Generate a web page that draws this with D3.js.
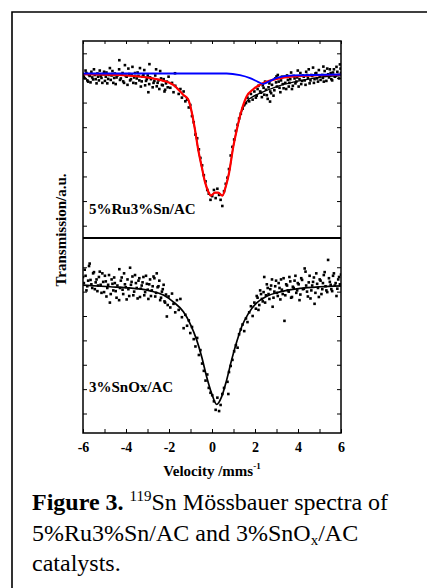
<!DOCTYPE html>
<html>
<head>
<meta charset="utf-8">
<script src="https://cdn.jsdelivr.net/npm/d3@7"></script>
<style>
  body { margin: 0; background: #fff; }
  svg { display: block; }
  text { font-family: "Liberation Serif", "Times New Roman", serif; }
</style>
</head>
<body>
<svg id="fig" width="427" height="588"></svg>
<script>
// ---- data (velocity mm/s, transmission a.u.) ----
const velTicks = [-6, -5, -4, -3, -2, -1, 0, 1, 2, 3, 4, 5, 6];
const velLabels = [-6, -4, -2, 0, 2, 4, 6];
const topTicks = [0.5, 1.5, 2.5, 3.5, 4.5, 5.5, 6.5, 7.5];
const botTicks = [0.8, 1.8, 2.8, 3.8, 4.8, 5.8, 6.8];
const sampleTop = "5%Ru3%Sn/AC";
const sampleBot = "3%SnOx/AC";

// 5%Ru3%Sn/AC measured points
const topPoints = [
  [-6.00,6.62],[-5.92,6.48],[-5.84,6.70],[-5.76,6.35],[-5.69,6.58],[-5.61,6.75],[-5.53,6.44],[-5.45,6.62],
  [-5.37,6.28],[-5.30,6.55],[-5.22,6.80],[-5.14,6.50],[-5.06,6.66],[-4.98,6.38],[-4.91,6.72],[-4.83,6.46],
  [-4.75,6.90],[-4.67,6.60],[-4.59,6.30],[-4.52,6.68],[-4.44,6.52],[-4.31,7.22],[-4.28,6.42],[-4.20,6.64],
  [-4.13,6.36],[-4.05,7.02],[-3.97,6.55],[-3.89,6.88],[-3.81,6.40],[-3.74,6.62],[-3.66,6.30],[-3.58,6.70],
  [-3.50,6.48],[-3.42,6.58],[-3.35,6.90],[-3.27,6.36],[-3.19,6.62],[-3.11,6.20],[-3.03,6.45],[-2.96,5.92],
  [-2.88,6.52],[-2.91,7.06],[-2.72,6.30],[-2.64,6.60],[-2.57,6.16],[-2.49,6.40],[-2.41,6.78],[-2.33,6.22],
  [-2.25,6.45],[-2.18,6.02],[-2.10,6.35],[-2.02,6.55],[-1.94,6.10],[-1.86,6.30],[-1.79,5.92],[-1.71,6.18],
  [-1.72,6.69],[-1.55,5.85],[-1.47,6.05],[-1.40,5.70],[-1.32,5.95],[-1.24,5.55],[-1.16,5.62],[-1.08,5.30],
  [-1.01,5.40],[-0.93,4.95],[-0.85,4.70],[-0.77,4.20],[-0.69,4.05],[-0.61,3.60],[-0.54,3.25],[-0.46,2.95],
  [-0.38,2.55],[-0.30,2.30],[-0.22,1.95],[-0.15,1.80],[-0.07,1.55],[0.01,1.70],[0.09,1.95],[0.17,1.62],
  [0.25,2.00],[0.33,1.75],[0.40,1.55],[0.48,1.30],[0.56,1.90],[0.64,2.20],[0.72,2.45],[0.79,2.80],
  [0.87,3.35],[0.95,3.70],[1.03,4.00],[1.11,4.35],[1.19,4.60],[1.26,4.85],[1.34,5.05],[1.42,5.25],
  [1.50,5.40],[1.58,5.48],[1.65,5.70],[1.73,5.55],[1.81,5.85],[1.89,5.62],[1.97,5.95],[2.04,5.70],
  [2.12,6.05],[2.70,5.54],[2.28,5.90],[2.36,6.20],[2.43,5.82],[2.51,6.02],[2.59,5.65],[2.67,6.28],
  [2.75,5.88],[3.00,6.56],[2.90,6.00],[2.98,6.32],[3.06,6.62],[3.14,6.10],[3.21,6.40],[3.29,6.25],
  [3.37,6.55],[3.45,6.05],[3.53,6.42],[3.60,6.30],[3.68,6.72],[3.76,6.18],[3.84,6.48],[3.92,6.35],
  [3.99,6.80],[4.07,6.45],[4.15,6.25],[4.23,6.60],[4.31,6.40],[4.38,6.75],[4.46,6.50],[4.54,6.28],
  [4.62,6.62],[4.70,6.92],[4.77,6.45],[4.85,6.70],[4.93,6.35],[5.01,6.58],[5.18,6.96],[5.16,6.50],
  [5.24,6.78],[5.32,6.38],[5.40,6.65],[5.48,6.85],[5.55,6.45],[5.63,6.72],[5.71,6.55],[5.79,6.95],
  [5.87,6.62],[5.95,7.05],[6.00,6.70],
  [-5.96,6.55],[-5.88,6.80],[-5.80,6.40],[-5.72,6.62],[-5.65,6.32],[-5.57,6.52],[-5.49,6.85],[-5.41,6.45],
  [-5.33,6.68],[-5.26,6.40],[-5.18,6.58],[-5.10,6.30],[-5.02,6.75],[-4.94,6.55],[-4.87,6.28],[-4.79,6.62],
  [-4.71,6.42],[-4.63,6.78],[-4.55,6.50],[-4.48,6.25],[-4.40,6.60],[-4.32,6.85],[-4.24,6.48],[-4.16,6.70],
  [-4.09,6.30],[-4.01,6.58],[-3.93,6.22],[-3.85,6.66],[-3.77,6.45],[-3.70,6.95],[-3.62,6.52],[-3.54,6.28],
  [-3.46,6.72],[-3.38,6.40],[-3.31,6.15],[-3.23,6.55],[-3.15,6.82],[-3.07,6.38],[-2.99,6.60],[-2.92,6.25],
  [-2.84,6.45],[-2.76,6.12],[-2.68,6.38],[-2.60,6.85],[-2.53,6.30],[-2.45,6.05],[-2.37,6.48],[-2.29,6.20],
  [-2.21,5.95],[-2.14,6.28],[-2.06,6.12],
  [2.08,5.78],[2.16,6.18],[2.24,5.95],[2.32,5.72],[2.40,6.10],[2.47,6.35],[2.55,5.80],[2.63,6.12],
  [2.71,5.95],[2.79,6.22],[2.86,5.78],[2.94,6.48],[3.02,6.15],[3.10,6.35],[3.18,5.92],[3.25,6.55],
  [3.33,6.08],[3.41,6.30],[3.49,6.60],[3.57,6.15],[3.64,6.45],[3.72,6.05],[3.80,6.58],[3.88,6.28],
  [3.96,6.52],[4.03,6.15],[4.11,6.70],[4.19,6.38],[4.27,6.55],[4.35,6.22],[4.42,6.62],[4.50,6.85],
  [4.58,6.40],[4.66,6.58],[4.74,6.30],[4.81,6.68],[4.89,6.48],[4.97,6.82],[5.05,6.42],[5.13,6.62],
  [5.20,6.35],[5.28,6.58],[5.36,6.88],[5.44,6.52],[5.52,6.70],[5.59,6.40],[5.67,6.85],[5.75,6.58],
  [5.83,6.75],[5.91,6.48],[5.98,6.88]
];

// 5%Ru3%Sn/AC fits: total (red), main component (black), minor component (blue)
const topFitTotal = [
  [-6.00,6.65],[-3.97,6.60],[-2.42,6.42],[-1.80,6.22],[-1.33,5.81],[-1.10,5.61],[-0.95,5.14],[-0.79,4.39],
  [-0.64,3.58],[-0.48,2.90],[-0.33,2.29],[-0.17,1.88],[-0.06,1.72],[0.14,1.84],[0.29,1.84],[0.48,1.72],
  [0.64,2.09],[0.79,2.63],[0.99,3.71],[1.15,4.39],[1.38,5.20],[1.61,5.75],[1.92,6.04],[2.39,6.29],
  [3.01,6.46],[3.78,6.56],[6.00,6.63]
];
const topFitMain = [
  [-6.00,6.65],[-3.97,6.60],[-2.42,6.42],[-1.80,6.22],[-1.33,5.81],[-1.10,5.61],[-0.95,5.14],[-0.79,4.39],
  [-0.64,3.58],[-0.48,2.90],[-0.33,2.29],[-0.17,1.88],[-0.06,1.72],[0.14,1.84],[0.29,1.84],[0.48,1.72],
  [0.64,2.09],[0.79,2.63],[0.99,3.71],[1.15,4.39],[1.38,5.14],[1.61,5.54],[1.92,5.75],[2.23,5.88],
  [2.54,5.99],[3.01,6.15],[3.78,6.33],[4.56,6.46],[5.33,6.56],[6.00,6.60]
];
const topFitMinor = [
  [-6.00,6.68],[0.68,6.68],[1.30,6.61],[1.77,6.49],[2.16,6.33],[2.36,6.26],[2.62,6.34],[3.01,6.50],
  [3.78,6.60],[6.00,6.64]
];

// 3%SnOx/AC measured points
const botPoints = [
  [-6.00,6.40],[-5.92,6.70],[-5.84,5.85],[-5.76,6.25],[-5.69,6.95],[-5.61,6.10],[-5.53,6.55],[-5.45,5.90],
  [-5.37,6.30],[-5.30,6.05],[-5.22,6.62],[-5.14,5.75],[-5.06,6.20],[-4.98,6.45],[-4.91,5.60],[-4.83,6.08],
  [-4.75,5.35],[-4.67,6.30],[-4.59,5.85],[-4.52,6.15],[-4.44,5.55],[-4.31,6.72],[-4.28,5.95],[-4.20,6.38],
  [-4.13,5.70],[-4.05,6.10],[-3.97,5.48],[-3.89,5.90],[-3.81,6.78],[-3.74,6.20],[-3.66,5.65],[-3.58,6.48],
  [-3.50,5.95],[-3.42,6.25],[-3.35,5.58],[-3.27,6.05],[-3.19,6.40],[-3.11,5.78],[-3.03,6.12],[-2.96,5.50],
  [-2.88,6.30],[-2.80,5.85],[-2.72,6.42],[-2.64,5.60],[-2.57,6.55],[-2.49,6.02],[-2.41,5.45],[-2.33,5.80],
  [-2.25,6.08],[-2.18,5.35],[-2.10,4.78],[-2.02,5.60],[-1.94,5.15],[-1.86,5.72],[-1.79,5.30],[-1.71,4.95],
  [-1.63,5.45],[-1.55,5.05],[-1.47,5.50],[-1.40,4.75],[-1.32,4.30],[-1.24,4.85],[-1.16,4.40],[-1.08,4.62],
  [-1.01,4.10],[-0.93,4.35],[-0.85,3.85],[-0.77,3.55],[-0.69,3.90],[-0.61,3.20],[-0.54,3.40],[-0.46,2.85],
  [-0.38,2.55],[-0.30,2.15],[-0.22,2.40],[-0.15,1.85],[-0.07,1.65],[0.01,1.55],[0.09,1.30],[0.17,0.95],
  [0.25,1.45],[0.33,0.90],[0.40,1.15],[0.48,1.60],[0.56,1.85],[0.76,1.60],[0.72,2.10],[0.79,2.50],
  [0.87,2.75],[0.95,3.00],[1.03,3.35],[1.11,3.60],[1.19,3.50],[1.26,4.05],[1.34,4.25],[1.42,4.45],
  [1.50,4.18],[1.58,4.70],[1.65,4.55],[1.73,4.95],[1.81,5.20],[1.89,4.80],[1.97,5.35],[2.04,5.10],
  [2.12,5.55],[2.20,5.25],[2.28,5.70],[2.36,5.40],[2.43,6.40],[2.51,5.65],[2.59,5.95],[2.67,5.50],
  [2.75,6.05],[2.82,5.18],[2.90,5.80],[2.98,6.25],[3.06,5.62],[3.14,5.95],[3.21,6.30],[3.29,5.70],
  [3.37,4.60],[3.45,6.10],[3.53,5.85],[3.60,6.40],[3.68,5.55],[3.76,6.00],[3.84,6.25],[3.92,5.75],
  [3.99,6.15],[4.07,5.45],[4.15,6.35],[4.23,5.90],[4.31,6.75],[4.38,6.05],[4.46,5.60],[4.54,6.45],
  [4.62,5.85],[4.70,6.20],[4.77,5.30],[4.85,6.55],[4.93,5.95],[5.01,6.30],[5.09,5.70],[5.16,6.15],
  [5.24,6.60],[5.32,5.85],[5.40,7.10],[5.48,6.20],[5.55,5.90],[5.63,6.45],[5.71,6.05],[5.79,5.62],
  [5.87,6.30],[5.95,6.10],[6.00,6.50],
  [-5.96,6.15],[-5.88,6.45],[-5.80,6.02],[-5.72,6.85],[-5.65,6.28],[-5.57,5.95],[-5.49,6.60],[-5.41,6.18],
  [-5.33,5.82],[-5.26,6.40],[-5.18,6.08],[-5.10,6.55],[-5.02,5.78],[-4.94,6.22],[-4.87,5.95],[-4.79,6.48],
  [-4.71,5.70],[-4.63,6.12],[-4.55,6.38],[-4.48,5.82],[-4.40,6.05],[-4.32,5.45],[-4.24,6.25],[-4.16,5.88],
  [-4.09,6.55],[-4.01,5.98],[-3.93,6.30],[-3.85,5.62],[-3.77,6.08],[-3.70,6.42],[-3.62,5.80],[-3.54,6.15],
  [-3.46,5.52],[-3.38,6.35],[-3.31,5.92],[-3.23,6.18],[-3.15,5.65],[-3.07,6.45],[-2.99,5.88],[-2.92,6.10],
  [-2.84,5.62],[-2.76,6.02],[-2.68,6.35],[-2.60,5.75],[-2.53,5.98],[-2.45,6.25],[-2.37,5.55],[-2.29,5.90],
  [-2.21,5.40],[-2.14,5.68],[-2.06,5.25],
  [2.08,5.62],[2.16,5.05],[2.24,5.85],[2.32,5.50],[2.40,5.78],[2.47,5.35],[2.55,6.10],[2.63,5.70],
  [2.71,5.90],[2.79,6.30],[2.86,5.55],[2.94,6.02],[3.02,5.75],[3.10,6.15],[3.18,5.48],[3.25,5.88],
  [3.33,6.35],[3.41,5.65],[3.49,6.05],[3.57,5.80],[3.64,6.22],[3.72,5.58],[3.80,5.95],[3.88,6.45],
  [3.96,5.85],[4.03,6.10],[4.11,5.68],[4.19,6.28],[4.27,5.92],[4.35,6.62],[4.42,5.80],[4.50,6.18],
  [4.58,5.52],[4.66,6.05],[4.74,6.38],[4.81,5.75],[4.89,6.12],[4.97,5.58],[5.05,6.25],[5.13,5.90],
  [5.20,6.48],[5.28,6.02],[5.36,5.78],[5.44,6.35],[5.52,6.08],[5.59,5.82],[5.67,6.55],[5.75,6.15],
  [5.83,5.92],[5.91,6.40],[5.98,6.05]
];
const botFit = [
  [-6.00,6.07],[-4.74,6.00],[-3.97,5.96],[-2.88,5.83],[-2.26,5.66],[-1.80,5.38],[-1.33,4.97],[-1.02,4.49],
  [-0.71,3.81],[-0.48,3.13],[-0.25,2.31],[-0.02,1.63],[0.22,1.17],[0.45,1.49],[0.68,2.17],[0.91,2.99],
  [1.15,3.74],[1.38,4.36],[1.69,4.90],[2.08,5.34],[2.54,5.61],[3.16,5.79],[4.09,5.93],[5.02,6.00],[6.00,6.04]
];

// ---- layout ----
const svg = d3.select("#fig");
const pLeft = 83, pRight = 341, pTop = 41, pMid = 238, pBottom = 433;

const x = d3.scaleLinear().domain([-6, 6]).range([pLeft, pRight]);
const yTop = d3.scaleLinear().domain([0, 8]).range([pMid, pTop]);
const yBot = d3.scaleLinear().domain([0, 8]).range([pBottom, pMid]);

// outer frame of the figure (runs off the right/bottom edge)
svg.append("path")
    .attr("d", "M12,600V12H440")
    .attr("fill", "none").attr("stroke", "#000").attr("stroke-width", 1.6);

// panels
function drawPanel(yScale, ticks, points, fits, label, y0, y1, labelY) {
    const g = svg.append("g");
    g.append("g").attr("transform", `translate(${pLeft},0)`)
        .call(d3.axisLeft(yScale).tickValues(ticks).tickSizeInner(-4).tickSizeOuter(0).tickFormat(""));
    g.append("g").attr("transform", `translate(${pRight},0)`)
        .call(d3.axisRight(yScale).tickValues(ticks).tickSizeInner(-4).tickSizeOuter(0).tickFormat(""));
    g.selectAll(".domain").remove();

    const clipId = "clip" + y0;
    svg.append("clipPath").attr("id", clipId).append("rect")
        .attr("x", pLeft).attr("y", y0).attr("width", pRight - pLeft).attr("height", y1 - y0);

    g.append("g").attr("clip-path", `url(#${clipId})`)
        .selectAll("rect").data(points).enter().append("rect")
        .attr("x", d => x(d[0]) - 1.3).attr("y", d => yScale(d[1]) - 1.3)
        .attr("width", 2.6).attr("height", 2.6).attr("fill", "#000");

    const line = d3.line().x(d => x(d[0])).y(d => yScale(d[1])).curve(d3.curveMonotoneX);
    fits.forEach(f => {
        g.append("path").datum(f.data).attr("d", line)
            .attr("fill", "none").attr("stroke", f.color).attr("stroke-width", f.width);
    });

    g.append("text").attr("x", 89).attr("y", labelY)
        .attr("font-size", 15).attr("font-weight", "bold").text(label);
}

drawPanel(yTop, topTicks, topPoints, [
    { data: topFitMain, color: "#000", width: 1.3 },
    { data: topFitTotal, color: "#ff0000", width: 2.2 },
    { data: topFitMinor, color: "#0000ff", width: 1.8 }
], sampleTop, pTop, pMid, 214);

drawPanel(yBot, botTicks, botPoints, [
    { data: botFit, color: "#000", width: 1.7 }
], sampleBot, pMid, pBottom, 392);

// x axes
const xAxisTop = svg.append("g").attr("transform", `translate(0,${pTop})`)
    .call(d3.axisTop(x).tickValues(velTicks).tickSizeInner(-3).tickSizeOuter(0).tickFormat(""));
xAxisTop.select(".domain").remove();

const xAxisBot = svg.append("g").attr("transform", `translate(0,${pBottom})`)
    .call(d3.axisBottom(x).tickValues(velTicks).tickSizeInner(-4).tickSizeOuter(0).tickPadding(9)
        .tickFormat(d => velLabels.includes(d) ? String(d) : ""));
xAxisBot.select(".domain").remove();
xAxisBot.selectAll("text")
    .attr("font-family", "'Liberation Serif', 'Times New Roman', serif")
    .attr("font-size", 14).attr("font-weight", "bold").attr("fill", "#000");

// frame and divider
svg.append("rect").attr("x", pLeft).attr("y", pTop)
    .attr("width", pRight - pLeft).attr("height", pBottom - pTop)
    .attr("fill", "none").attr("stroke", "#000").attr("stroke-width", 1.5);
svg.append("line").attr("x1", pLeft).attr("x2", pRight)
    .attr("y1", pMid).attr("y2", pMid)
    .attr("stroke", "#000").attr("stroke-width", 2);

// axis titles
const xt = svg.append("text").attr("x", (pLeft + pRight) / 2).attr("y", 476)
    .attr("text-anchor", "middle").attr("font-size", 15).attr("font-weight", "bold");
xt.append("tspan").text("Velocity /mms");
xt.append("tspan").attr("font-size", 9).attr("dy", -7).text("-1");

svg.append("text")
    .attr("transform", `translate(66,230) rotate(-90)`)
    .attr("text-anchor", "middle").attr("font-size", 15).attr("font-weight", "bold")
    .text("Transmission/a.u.");

// caption
const cap = svg.append("g").attr("font-size", 24);
const l1 = cap.append("text").attr("x", 32).attr("y", 510);
l1.append("tspan").attr("font-weight", "bold").text("Figure 3.");
l1.append("tspan").text(" ");
l1.append("tspan").attr("font-size", 15).attr("dy", -9).text("119");
l1.append("tspan").attr("dy", 9).text("Sn Mössbauer spectra of");

const l2 = cap.append("text").attr("x", 32).attr("y", 541);
l2.append("tspan").text("5%Ru3%Sn/AC and 3%SnO");
l2.append("tspan").attr("font-size", 15).attr("dy", 4).text("x");
l2.append("tspan").attr("dy", -4).text("/AC");

cap.append("text").attr("x", 32).attr("y", 571).text("catalysts.");
</script>
</body>
</html>
